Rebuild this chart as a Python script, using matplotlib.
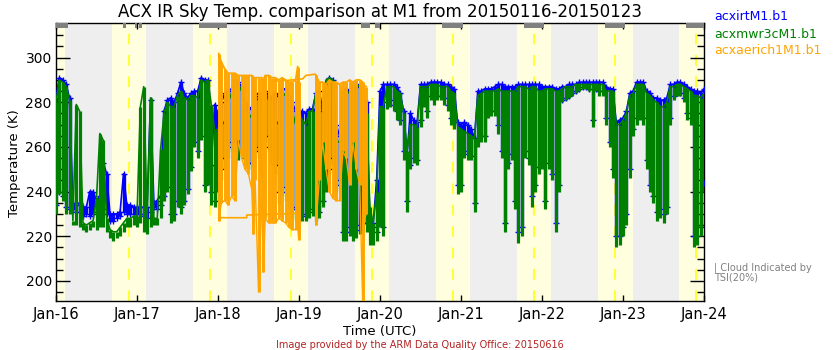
import numpy as np
import matplotlib.pyplot as plt

# hourly envelopes, Jan 16 00 UTC .. Jan 24 00 UTC
hours = np.arange(193)

green_hi = [280, 290, 289, 287, 281, 227, 279, 276, 226, 225,
            226, 227, 237, 266, 263, 228, 223, 222, 222, 224,
            226, 228, 228, 229, 229, 278, 287, 228, 282, 228,
            228, 259, 275, 280, 278, 278, 283, 285, 282, 281,
            283, 283, 282, 290, 289, 290, 279, 267, 268, 272,
            270, 280, 284, 290, 288, 285, 276, 275, 273, 280,
            282, 275, 284, 281, 278, 272, 270, 282, 284, 280,
            276, 270, 275, 272, 270, 276, 276, 284, 283, 276,
            290, 291, 290, 263, 262, 285, 285, 284, 288, 288,
            287, 278, 275, 233, 226, 240, 278, 278, 287, 287,
            287, 285, 284, 275, 258, 270, 270, 269, 287, 287,
            287, 288, 288, 288, 287, 287, 287, 285, 284, 269,
            268, 267, 266, 265, 264, 283, 284, 285, 285, 285,
            285, 286, 285, 285, 285, 285, 285, 287, 287, 287,
            286, 287, 287, 285, 285, 286, 286, 286, 285, 285,
            286, 287, 287, 287, 288, 288, 288, 288, 288, 288,
            288, 288, 288, 285, 285, 285, 270, 270, 272, 275,
            283, 284, 288, 288, 288, 284, 283, 281, 280, 278,
            278, 280, 287, 287, 288, 288, 287, 286, 285, 283,
            283, 282, 284]
green_lo = [230, 239, 236, 230, 230, 225, 225, 224, 223, 222,
            223, 224, 223, 224, 224, 222, 219, 218, 219, 220,
            222, 224, 224, 225, 224, 226, 222, 221, 224, 225,
            225, 228, 236, 240, 226, 227, 233, 230, 234, 239,
            249, 260, 255, 263, 240, 243, 234, 233, 240, 245,
            250, 255, 258, 262, 254, 255, 252, 250, 250, 258,
            255, 246, 262, 258, 252, 248, 235, 238, 236, 233,
            228, 227, 227, 227, 227, 228, 229, 227, 228, 233,
            240, 248, 252, 240, 241, 218, 218, 220, 218, 219,
            221, 222, 222, 216, 216, 218, 224, 220, 277, 278,
            276, 272, 270, 254, 231, 250, 253, 252, 269, 278,
            273, 281, 279, 281, 281, 279, 276, 270, 268, 239,
            240, 255, 254, 254, 231, 260, 262, 262, 273, 274,
            274, 266, 255, 222, 250, 254, 232, 217, 220, 255,
            252, 233, 240, 248, 250, 232, 250, 245, 222, 240,
            280, 281, 282, 283, 284, 285, 286, 286, 285, 269,
            285, 283, 283, 270, 260, 246, 215, 216, 220, 225,
            246, 265, 270, 272, 270, 250, 240, 235, 227, 228,
            226, 230, 270, 281, 283, 283, 280, 272, 270, 215,
            216, 220, 240]
blue_hi = [282, 291, 290, 288, 282, 235, 234, 235, 233, 233,
           240, 240, 236, 238, 253, 248, 230, 230, 230, 231,
           248, 234, 234, 233, 233, 233, 233, 233, 281, 235,
           236, 238, 276, 281, 282, 280, 284, 289, 284, 282,
           284, 285, 285, 291, 290, 290, 252, 279, 275, 280,
           284, 285, 286, 290, 289, 287, 280, 278, 277, 283,
           284, 280, 285, 283, 282, 284, 283, 286, 286, 283,
           280, 276, 276, 276, 275, 277, 277, 284, 285, 276,
           287, 291, 290, 270, 265, 285, 286, 285, 288, 288,
           287, 281, 280, 227, 226, 245, 285, 288, 288, 288,
           288, 287, 284, 276, 257, 275, 272, 271, 288, 288,
           288, 289, 289, 289, 289, 288, 288, 287, 286, 271,
           270, 271, 270, 268, 264, 285, 285, 286, 286, 286,
           287, 288, 288, 287, 287, 287, 287, 288, 288, 288,
           288, 288, 288, 288, 287, 287, 287, 287, 286, 286,
           287, 287, 288, 288, 288, 289, 289, 289, 289, 289,
           289, 289, 289, 287, 286, 286, 271, 272, 273, 276,
           284, 285, 289, 289, 289, 285, 284, 282, 282, 281,
           281, 282, 288, 288, 289, 289, 288, 287, 286, 285,
           285, 284, 286]
blue_lo = [234, 240, 238, 233, 232, 232, 231, 231, 229, 230,
           229, 230, 231, 231, 232, 230, 227, 227, 228, 229,
           231, 230, 230, 230, 230, 230, 229, 228, 231, 233,
           232, 234, 238, 242, 230, 230, 236, 233, 236, 241,
           251, 262, 258, 265, 243, 245, 240, 236, 245, 250,
           255, 260, 262, 265, 258, 258, 255, 253, 253, 260,
           258, 250, 265, 260, 256, 252, 240, 242, 240, 238,
           233, 232, 230, 230, 229, 231, 232, 230, 231, 236,
           243, 250, 255, 245, 243, 222, 222, 224, 222, 223,
           225, 226, 226, 225, 224, 222, 228, 224, 280, 281,
           279, 276, 272, 258, 236, 252, 255, 254, 272, 280,
           276, 283, 282, 283, 283, 282, 279, 273, 271, 243,
           243, 258, 257, 256, 235, 263, 265, 265, 275, 276,
           276, 270, 258, 226, 253, 257, 236, 222, 224, 258,
           255, 238, 243, 251, 252, 236, 253, 248, 226, 243,
           281, 282, 283, 284, 285, 286, 287, 287, 286, 272,
           286, 285, 285, 273, 262, 250, 220, 220, 224, 230,
           250, 268, 273, 274, 273, 254, 243, 238, 231, 232,
           230, 233, 273, 283, 284, 284, 282, 275, 273, 220,
           220, 224, 244]

# AERI channel: two stretches of data plus the jumps between them
aeri1_h = [48.2, 49, 50, 51, 52, 53, 54, 55, 56, 57, 58, 58.5, 59, 60, 61,
           61.4, 62, 63, 64, 65, 66, 67, 68, 69, 70, 71, 71.6, 71.9]
aeri1_hi = [301.8, 298, 295, 293, 293, 293, 292, 292, 292, 292, 292, 291, 291,
            291, 291, 290, 292, 292, 291, 291, 290, 291, 290, 289, 289, 290,
            296, 289]
aeri1_lo = [227, 235, 236, 234, 238, 236, 263, 255, 250, 248, 241, 221, 245,
            195, 240, 204, 228, 226, 226, 226, 228, 227, 226, 224, 223, 223,
            225, 218.5]
aeri2_h = [77, 78, 79, 80, 81, 82, 83, 84, 85, 86, 87, 88, 89, 90, 90.9, 91,
           91.9]
aeri2_hi = [292, 289, 289, 288, 290, 289, 289, 288, 289, 289, 290, 289, 290,
            290, 289, 288, 287]
aeri2_lo = [225, 245, 262, 250, 240, 237, 236, 236, 258, 255, 243, 262, 250,
            243, 188, 226, 230]
aeri_low_h = [48.2, 56.5, 56.5, 71.3]
aeri_low_k = [228.3, 228.3, 229.5, 230.2]
aeri_up_h = [63.4, 68.6, 73.1, 74.0, 76.8, 77.0]
aeri_up_k = [289.3, 289.8, 290.5, 292.0, 292.6, 292.0]

# daylight and solar noon (hours since Jan 16 00 UTC)
day_start = [-7.4, 16.6, 40.6, 64.6, 88.6, 112.6, 136.6, 160.6, 184.6]
day_end = [2.7, 26.7, 50.7, 74.7, 98.7, 122.7, 146.7, 171.0, 195.0]
noon = [21.7, 45.7, 69.7, 93.7, 117.7, 141.7, 165.7, 189.7]

# TSI cloud flags
cloud_start = [0, 19.9, 23.4, 24.6, 42.4, 66.4, 90.4, 94.5, 114.4, 138.7, 162.7, 186.7]
cloud_end = [3.6, 20.7, 24.0, 25.5, 50.7, 73.2, 93.0, 96.0, 120.6, 144.6, 168.6, 192]

day_labels = ['Jan-16', 'Jan-17', 'Jan-18', 'Jan-19', 'Jan-20',
              'Jan-21', 'Jan-22', 'Jan-23', 'Jan-24']

BLUE, GREEN, ORANGE = '#0000ff', '#008000', '#ffa500'

fig = plt.figure(figsize=(8.4, 3.5), dpi=100)
ax = fig.add_axes([56/840, 49/350, 648/840, 278/350])
ax.set_facecolor('#eeeeee')

for s, e in zip(day_start, day_end):
    ax.axvspan(s, e, color='#ffffe0', lw=0, zorder=0)
for n in noon:
    ax.axvline(n, color='#ffff00', lw=1.1, dashes=(7, 7), zorder=1)
for s, e in zip(cloud_start, cloud_end):
    ax.axvspan(s, e, ymin=0.982, ymax=1, color='#808080', lw=0, zorder=6)

# IRT: plus symbols over a band
ax.vlines(hours, blue_lo, blue_hi, color=BLUE, lw=2.4, zorder=3)
ax.plot(hours, blue_hi, color=BLUE, lw=1.2, marker='+', ms=4, mew=1.0, zorder=3)
ax.plot(hours, blue_lo, ls='none', color=BLUE, marker='+', ms=4, mew=1.0, zorder=3)

# MWR
ax.vlines(hours, green_lo, green_hi, color=GREEN, lw=2.3, zorder=4)
ax.plot(hours, green_hi, color=GREEN, lw=1.2, zorder=4)

# AERI
for th, hi, lo in [(aeri1_h, aeri1_hi, aeri1_lo), (aeri2_h, aeri2_hi, aeri2_lo)]:
    ax.vlines(th, lo, hi, color=ORANGE, lw=2.1, zorder=5)
    ax.plot(th, hi, color=ORANGE, lw=1.3, zorder=5)
    ax.plot(th, lo, color=ORANGE, lw=1.0, zorder=5)
ax.plot(aeri_low_h, aeri_low_k, color=ORANGE, lw=1.2, zorder=5)
ax.plot(aeri_up_h, aeri_up_k, color=ORANGE, lw=1.2, zorder=5)

ax.set_xlim(0, 192)
ax.set_ylim(191, 315.5)
ax.set_xticks(np.arange(0, 193, 24))
ax.set_xticklabels(day_labels, fontsize=10.5)
ax.set_yticks(np.arange(200, 301, 20))
ax.set_yticks(np.arange(195, 316, 5), minor=True)
ax.tick_params(axis='y', which='major', direction='in', length=10, width=1,
               right=True, labelsize=10, pad=3)
ax.tick_params(axis='y', which='minor', direction='in', length=5, width=1, right=True)
ax.tick_params(axis='x', direction='in', length=4.5, width=1, top=True, pad=4)
for sp in ax.spines.values():
    sp.set_linewidth(1)

fig.text(380/840, 1 - 12/350, 'ACX IR Sky Temp. comparison at M1 from 20150116-20150123',
         ha='center', va='center', fontsize=12)
fig.text(380/840, 1 - 332/350, 'Time (UTC)', ha='center', va='center', fontsize=9.5)
fig.text(15/840, 1 - 163/350, 'Temperature (K)', ha='center', va='center',
         rotation=90, fontsize=9.5)
fig.text(0.5, 1 - 345.5/350, 'Image provided by the ARM Data Quality Office: 20150616',
         ha='center', va='center', fontsize=7, color='#b22222')

fig.text(714/840, 1 - 17/350, 'acxirtM1.b1', color=BLUE, fontsize=9, va='center')
fig.text(714/840, 1 - 34/350, 'acxmwr3cM1.b1', color=GREEN, fontsize=9, va='center')
fig.text(714/840, 1 - 50/350, 'acxaerich1M1.b1', color=ORANGE, fontsize=9, va='center')
fig.text(714/840, 1 - 268/350, '| Cloud Indicated by', color='#808080', fontsize=7, va='center')
fig.text(714/840, 1 - 277/350, 'TSI(20%)', color='#808080', fontsize=7, va='center')

fig.savefig('out.png', dpi=100)
